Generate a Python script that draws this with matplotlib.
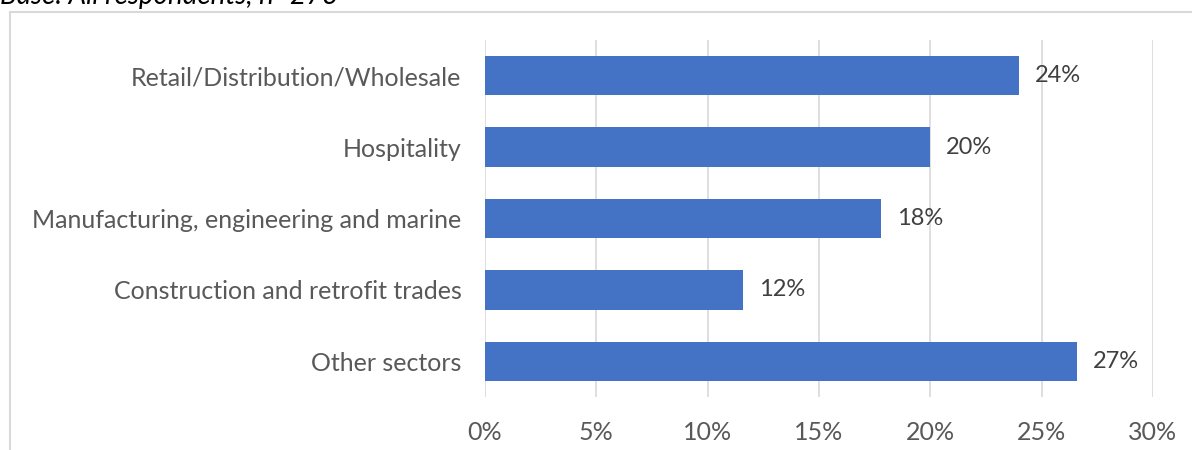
import matplotlib
matplotlib.use("Agg")
import matplotlib.pyplot as plt
from matplotlib.patches import Rectangle
from matplotlib.ticker import FuncFormatter

categories = [
    "Retail/Distribution/Wholesale",
    "Hospitality",
    "Manufacturing, engineering and marine",
    "Construction and retrofit trades",
    "Other sectors",
]
shares = [24.0, 20.0, 17.8, 11.6, 26.6]
x_ticks = [0, 5, 10, 15, 20, 25, 30]
base_note = "Base: All respondents, n=273"

plt.rcParams["font.family"] = ["Lato", "DejaVu Sans"]

fig = plt.figure(figsize=(11.92, 4.5), dpi=100)
fig.patch.set_facecolor("white")

# chart frame (extends past the right and bottom edges)
fig.patches.append(Rectangle((10 / 1192, -0.1), 1.2, 1 - 12 / 450 + 0.1,
                             transform=fig.transFigure, fill=False,
                             edgecolor="#d9d9d9", linewidth=1.5))
fig.text(0.0, 1 - 4 / 450, base_note, ha="left", va="baseline",
         fontsize=20, style="italic", color="#000000")

ax = fig.add_axes([485 / 1192, 1 - 397 / 450, (1153 - 485) / 1192, (397 - 40) / 450])
y = list(range(len(categories)))
bars = ax.barh(y, shares, height=0.55, color="#4472C4", zorder=3)
ax.set_ylim(len(categories) - 0.5, -0.5)
ax.set_xlim(x_ticks[0], x_ticks[-1])
ax.set_xticks(x_ticks)
ax.xaxis.set_major_formatter(FuncFormatter(lambda v, _: f"{v:.0f}%"))
ax.set_yticks(y)
ax.set_yticklabels(categories)
ax.grid(axis="x", color="#d9d9d9", linewidth=1.2, zorder=0)
for s in ax.spines.values():
    s.set_visible(False)
ax.tick_params(axis="both", length=0, labelsize=18, colors="#595959")
ax.tick_params(axis="y", pad=17)
ax.tick_params(axis="x", pad=17)

for b, v in zip(bars, shares):
    ax.text(v + 0.7, b.get_y() + b.get_height() / 2, f"{v:.0f}%",
            va="center", ha="left", fontsize=17, color="#404040", zorder=4)

fig.savefig("out.png", dpi=100, facecolor="white")
